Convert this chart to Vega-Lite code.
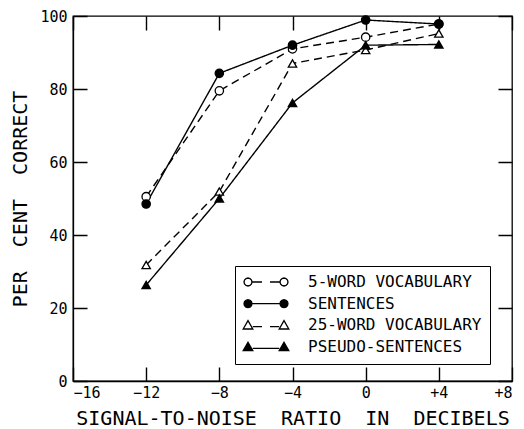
{
  "$schema": "https://vega.github.io/schema/vega-lite/v6.json",
  "width": 439,
  "height": 365,
  "autosize": {"type": "none"},
  "padding": {"left": 73, "top": 16, "right": 12, "bottom": 48},
  "background": "white",
  "config": {
    "view": {"stroke": "black", "strokeWidth": 1.3},
    "axis": {
      "domainColor": "black", "tickColor": "black", "labelColor": "black", "titleColor": "black",
      "labelFont": "DejaVu Sans Mono", "titleFont": "DejaVu Sans Mono",
      "titleFontWeight": "normal", "domainWidth": 1.3
    }
  },
  "data": {
    "values": [
      {"snr": -12, "pct": 50.5, "series": "5-WORD VOCABULARY"},
      {"snr": -8, "pct": 79.5, "series": "5-WORD VOCABULARY"},
      {"snr": -4, "pct": 91, "series": "5-WORD VOCABULARY"},
      {"snr": 0, "pct": 94.2, "series": "5-WORD VOCABULARY"},
      {"snr": 4, "pct": 97.8, "series": "5-WORD VOCABULARY"},
      {"snr": -12, "pct": 48.5, "series": "SENTENCES"},
      {"snr": -8, "pct": 84.3, "series": "SENTENCES"},
      {"snr": -4, "pct": 92, "series": "SENTENCES"},
      {"snr": 0, "pct": 98.9, "series": "SENTENCES"},
      {"snr": 4, "pct": 97.8, "series": "SENTENCES"},
      {"snr": -12, "pct": 31.8, "series": "25-WORD VOCABULARY"},
      {"snr": -8, "pct": 51.9, "series": "25-WORD VOCABULARY"},
      {"snr": -4, "pct": 87, "series": "25-WORD VOCABULARY"},
      {"snr": 0, "pct": 90.7, "series": "25-WORD VOCABULARY"},
      {"snr": 4, "pct": 95.2, "series": "25-WORD VOCABULARY"},
      {"snr": -12, "pct": 26.3, "series": "PSEUDO-SENTENCES"},
      {"snr": -8, "pct": 50, "series": "PSEUDO-SENTENCES"},
      {"snr": -4, "pct": 76.2, "series": "PSEUDO-SENTENCES"},
      {"snr": 0, "pct": 92, "series": "PSEUDO-SENTENCES"},
      {"snr": 4, "pct": 92.2, "series": "PSEUDO-SENTENCES"}
    ]
  },
  "layer": [
    {
      "mark": {"type": "line", "strokeWidth": 1.4, "color": "black"},
      "encoding": {
        "x": {
          "field": "snr", "type": "quantitative",
          "scale": {"domain": [-16, 8], "nice": false, "zero": false},
          "axis": {
            "orient": "bottom", "values": [-16, -12, -8, -4, 0, 4, 8],
            "labelExpr": "datum.value > 0 ? '+' + datum.value : datum.label",
            "ticks": false, "labelPadding": 4, "labelFontSize": 15,
            "grid": true, "gridColor": "black", "gridOpacity": 1, "gridWidth": 1.4, "gridDash": [14, 337, 14, 200],
            "title": "SIGNAL-TO-NOISE\u00a0 RATIO\u00a0 IN\u00a0 DECIBELS", "titleFontSize": 20, "titlePadding": 8
          }
        },
        "y": {
          "field": "pct", "type": "quantitative",
          "scale": {"domain": [0, 100], "nice": false},
          "axis": {
            "orient": "left", "values": [0, 20, 40, 60, 80, 100],
            "ticks": false, "labelPadding": 6, "labelFontSize": 15,
            "grid": true, "gridColor": "black", "gridOpacity": 1, "gridWidth": 1.4, "gridDash": [14, 411, 14, 200],
            "title": "PER\u00a0 CENT\u00a0 CORRECT", "titleFontSize": 20, "titlePadding": 9
          }
        },
        "detail": {"field": "series"},
        "strokeDash": {
          "field": "series", "type": "nominal",
          "scale": {
            "domain": ["5-WORD VOCABULARY", "SENTENCES", "25-WORD VOCABULARY", "PSEUDO-SENTENCES"],
            "range": [[8, 5], [1, 0], [8, 5], [1, 0]]
          },
          "legend": null
        }
      }
    },
    {
      "mark": {"type": "point", "filled": true, "stroke": "black", "strokeWidth": 1.3, "opacity": 1, "size": 70},
      "encoding": {
        "x": {"field": "snr", "type": "quantitative"},
        "y": {"field": "pct", "type": "quantitative"},
        "fill": {
          "field": "series", "type": "nominal",
          "scale": {
            "domain": ["5-WORD VOCABULARY", "SENTENCES", "25-WORD VOCABULARY", "PSEUDO-SENTENCES"],
            "range": ["white", "black", "white", "black"]
          },
          "legend": null
        },
        "shape": {
          "field": "series", "type": "nominal",
          "scale": {
            "domain": ["5-WORD VOCABULARY", "SENTENCES", "25-WORD VOCABULARY", "PSEUDO-SENTENCES"],
            "range": ["circle", "circle", "triangle-up", "triangle-up"]
          },
          "legend": null
        }
      }
    },
    {
      "transform": [{"filter": "false"}],
      "mark": {"type": "point", "filled": true, "strokeWidth": 1.3, "opacity": 1},
      "encoding": {
        "x": {"field": "snr", "type": "quantitative"},
        "y": {"field": "pct", "type": "quantitative"},
        "fill": {
          "field": "series", "type": "nominal",
          "scale": {
            "domain": ["5-WORD VOCABULARY", "SENTENCES", "25-WORD VOCABULARY", "PSEUDO-SENTENCES"],
            "range": ["white", "black", "white", "black"]
          }
        },
        "stroke": {
          "field": "series", "type": "nominal",
          "scale": {
            "domain": ["5-WORD VOCABULARY", "SENTENCES", "25-WORD VOCABULARY", "PSEUDO-SENTENCES"],
            "range": ["black", "black", "black", "black"]
          }
        },
        "shape": {
          "field": "series", "type": "nominal",
          "scale": {
            "domain": ["5-WORD VOCABULARY", "SENTENCES", "25-WORD VOCABULARY", "PSEUDO-SENTENCES"],
            "range": [
              "M0.25,0L0.12,0.5L-0.25,0.87L-0.75,1L-1.25,0.87L-1.62,0.5L-1.75,0L-1.62,-0.5L-1.25,-0.87L-0.75,-1L-0.25,-0.87L0.12,-0.5ZM0.25,0L2.75,0M4.75,0L7.25,0M9.25,0L9.12,0.5L8.75,0.87L8.25,1L7.75,0.87L7.38,0.5L7.25,0L7.38,-0.5L7.75,-0.87L8.25,-1L8.75,-0.87L9.12,-0.5Z",
              "M0.25,0L0.12,0.5L-0.25,0.87L-0.75,1L-1.25,0.87L-1.62,0.5L-1.75,0L-1.62,-0.5L-1.25,-0.87L-0.75,-1L-0.25,-0.87L0.12,-0.5ZM0.25,0L7.25,0M9.25,0L9.12,0.5L8.75,0.87L8.25,1L7.75,0.87L7.38,0.5L7.25,0L7.38,-0.5L7.75,-0.87L8.25,-1L8.75,-0.87L9.12,-0.5Z",
              "M-0.75,-1.2L0.45,0.9L-1.95,0.9ZM0.45,0.3L2.75,0.3M4.75,0.3L7.05,0.3M8.25,-1.2L9.45,0.9L7.05,0.9Z",
              "M-0.75,-1.2L0.45,0.9L-1.95,0.9ZM0.45,0.3L7.05,0.3M8.25,-1.2L9.45,0.9L7.05,0.9Z"
            ]
          },
          "legend": {
            "orient": "none", "legendX": 162, "legendY": 250, "title": null,
            "strokeColor": "black", "fillColor": "white", "padding": 8,
            "labelFont": "DejaVu Sans Mono", "labelFontSize": 16, "labelColor": "black", "labelLimit": 400,
            "symbolSize": 64, "labelOffset": 49, "rowPadding": 5.7,
            "symbolStrokeColor": "black", "symbolStrokeWidth": 1.3, "symbolOpacity": 1,
            "encoding": {"symbols": {"stroke": {"value": "black"}, "strokeWidth": {"value": 1.3}}}
          }
        }
      }
    }
  ],
  "resolve": {
    "scale": {"shape": "independent", "fill": "independent"}
  }
}
